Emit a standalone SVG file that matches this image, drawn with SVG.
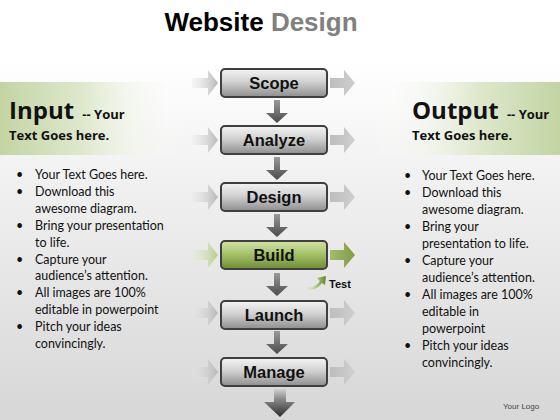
<svg xmlns="http://www.w3.org/2000/svg" width="560" height="420" viewBox="0 0 560 420">
<defs>
<linearGradient id="bg" x1="0" y1="0" x2="0" y2="1">
<stop offset="0" stop-color="#ffffff"/>
<stop offset="0.15" stop-color="#ffffff"/>
<stop offset="0.4" stop-color="#f2f2f2"/>
<stop offset="1" stop-color="#d7d7d7"/>
</linearGradient>
<linearGradient id="bandL" x1="0" y1="0" x2="1" y2="0">
<stop offset="0" stop-color="#c3d4a3"/>
<stop offset="0.45" stop-color="#dfe8cd"/>
<stop offset="1" stop-color="#ffffff" stop-opacity="0"/>
</linearGradient>
<linearGradient id="bandR" x1="1" y1="0" x2="0" y2="0">
<stop offset="0" stop-color="#c3d4a3"/>
<stop offset="0.45" stop-color="#dfe8cd"/>
<stop offset="1" stop-color="#ffffff" stop-opacity="0"/>
</linearGradient>
<linearGradient id="boxG" x1="0" y1="0" x2="0" y2="1">
<stop offset="0" stop-color="#f4f4f4"/>
<stop offset="0.45" stop-color="#d2d2d2"/>
<stop offset="1" stop-color="#8e8e8e"/>
</linearGradient>
<linearGradient id="boxGreen" x1="0" y1="0" x2="0" y2="1">
<stop offset="0" stop-color="#d3e4a8"/>
<stop offset="0.45" stop-color="#a6c36c"/>
<stop offset="1" stop-color="#6d8d31"/>
</linearGradient>
<linearGradient id="sideL" x1="0" y1="0" x2="1" y2="0">
<stop offset="0" stop-color="#e6e6e6" stop-opacity="0.3"/>
<stop offset="1" stop-color="#b8b8b8"/>
</linearGradient>
<linearGradient id="sideR" x1="0" y1="0" x2="1" y2="0">
<stop offset="0" stop-color="#bdbdbd"/>
<stop offset="1" stop-color="#cfcfcf"/>
</linearGradient>
<linearGradient id="sideLG" x1="0" y1="0" x2="1" y2="0">
<stop offset="0" stop-color="#e6eed6" stop-opacity="0.3"/>
<stop offset="1" stop-color="#b6cc8a"/>
</linearGradient>
<linearGradient id="sideRG" x1="0" y1="0" x2="1" y2="0">
<stop offset="0" stop-color="#a3bd6c"/>
<stop offset="1" stop-color="#7f9c45"/>
</linearGradient>
<linearGradient id="down" x1="0" y1="0" x2="0" y2="1">
<stop offset="0" stop-color="#9a9a9a"/>
<stop offset="1" stop-color="#4a4a4a"/>
</linearGradient>
<linearGradient id="downBig" x1="0" y1="0" x2="0" y2="1">
<stop offset="0" stop-color="#e0e0e0"/>
<stop offset="0.4" stop-color="#8a8a8a"/>
<stop offset="1" stop-color="#2e2e2e"/>
</linearGradient>
<linearGradient id="testG" x1="0" y1="0" x2="1" y2="0">
<stop offset="0" stop-color="#f4f8ea" stop-opacity="0.2"/>
<stop offset="0.5" stop-color="#c8dca0"/>
<stop offset="1" stop-color="#5f8a22"/>
</linearGradient>
</defs>
<style>
.box{stroke:#3f3f3f;stroke-width:2}
.lbl{font-family:"Liberation Sans",Arial,sans-serif;font-weight:bold;font-size:16.5px;fill:#111;text-anchor:middle}
.big{font-family:"Open Sans","Noto Sans",sans-serif;font-weight:bold;fill:#111}
.bul{font-family:Lato,"Open Sans",sans-serif;font-size:12.5px;fill:#111}
</style>
<rect x="0" y="0" width="560" height="420" fill="url(#bg)"/>
<rect x="0" y="82" width="185" height="73" fill="url(#bandL)"/>
<rect x="375" y="82" width="185" height="73" fill="url(#bandR)"/>

<g id="title">
<text x="261" y="31" text-anchor="middle" font-family="'Liberation Sans',Arial,sans-serif" font-weight="bold" font-size="26" fill="#000">Website <tspan fill="#808080">Design</tspan></text>
</g>

<g id="input-heading">
<text class="big" x="9" y="119" font-size="24">Input <tspan font-size="13" dx="2">-- Your</tspan></text>
<text class="big" x="9" y="140" font-size="13">Text Goes here.</text>
</g>
<g id="output-heading">
<text class="big" x="412" y="119" font-size="24">Output <tspan font-size="13" dx="2">-- Your</tspan></text>
<text class="big" x="412" y="140" font-size="13">Text Goes here.</text>
</g>

<g id="input-list" class="bul">
<text x="16" y="179">•</text><text x="35" y="179">Your Text Goes here.</text>
<text x="16" y="196">•</text><text x="35" y="196">Download this</text>
<text x="35" y="213">awesome diagram.</text>
<text x="16" y="230">•</text><text x="35" y="230">Bring your presentation</text>
<text x="35" y="247">to life.</text>
<text x="16" y="264">•</text><text x="35" y="264">Capture your</text>
<text x="35" y="280">audience’s attention.</text>
<text x="16" y="297">•</text><text x="35" y="297">All images are 100%</text>
<text x="35" y="314">editable in powerpoint</text>
<text x="16" y="331">•</text><text x="35" y="331">Pitch your ideas</text>
<text x="35" y="348">convincingly.</text>
</g>
<g id="output-list" class="bul">
<text x="404" y="180">•</text><text x="422" y="180">Your Text Goes here.</text>
<text x="404" y="197">•</text><text x="422" y="197">Download this</text>
<text x="422" y="214">awesome diagram.</text>
<text x="404" y="231">•</text><text x="422" y="231">Bring your</text>
<text x="422" y="248">presentation to life.</text>
<text x="404" y="265">•</text><text x="422" y="265">Capture your</text>
<text x="422" y="282">audience’s attention.</text>
<text x="404" y="299">•</text><text x="422" y="299">All images are 100%</text>
<text x="422" y="316">editable in</text>
<text x="422" y="333">powerpoint</text>
<text x="404" y="350">•</text><text x="422" y="350">Pitch your ideas</text>
<text x="422" y="367">convincingly.</text>
</g>

<g id="connectors">
<g fill="url(#sideL)">
<path d="M192,78 h16 v-8 l10,13 l-10,13 v-8 h-16z"/>
<path d="M192,135 h16 v-8 l10,13 l-10,13 v-8 h-16z"/>
<path d="M192,192 h16 v-8 l10,13 l-10,13 v-8 h-16z"/>
<path d="M192,308 h16 v-8 l10,13 l-10,13 v-8 h-16z"/>
<path d="M192,367 h16 v-8 l10,13 l-10,13 v-8 h-16z"/>
</g>
<path d="M192,250 h16 v-8 l10,13 l-10,13 v-8 h-16z" fill="url(#sideLG)"/>
<g fill="url(#sideR)">
<path d="M330,78 h14 v-8 l11,13 l-11,13 v-8 h-14z"/>
<path d="M330,135 h14 v-8 l11,13 l-11,13 v-8 h-14z"/>
<path d="M330,192 h14 v-8 l11,13 l-11,13 v-8 h-14z"/>
<path d="M330,308 h14 v-8 l11,13 l-11,13 v-8 h-14z"/>
<path d="M330,367 h14 v-8 l11,13 l-11,13 v-8 h-14z"/>
</g>
<path d="M330,250 h14 v-8 l11,13 l-11,13 v-8 h-14z" fill="url(#sideRG)"/>
<g fill="url(#down)">
<path d="M274,100 h6 v13 h8 l-11,10 l-11,-10 h8z"/>
<path d="M274,157 h6 v13 h8 l-11,10 l-11,-10 h8z"/>
<path d="M274,214 h6 v13 h8 l-11,10 l-11,-10 h8z"/>
<path d="M274,273 h6 v13 h8 l-11,10 l-11,-10 h8z"/>
<path d="M274,331 h6 v13 h8 l-11,10 l-11,-10 h8z"/>
</g>
<path d="M274,387 h12 v15 h9 l-15,15 l-16,-15 h10z" fill="url(#downBig)"/>
</g>

<g id="test">
<path d="M300,284 q12,8 20,-3 l-3,-3 l9,-2 l-1,9 l-3,-2 q-10,13 -22,1z" fill="url(#testG)"/>
<text x="329" y="288" font-family="'Liberation Sans',Arial,sans-serif" font-weight="bold" font-size="11" fill="#111">Test</text>
</g>

<g id="scope"><rect class="box" x="221" y="69" width="106" height="28" rx="4" fill="url(#boxG)"/><text class="lbl" x="274" y="89">Scope</text></g>
<g id="analyze"><rect class="box" x="221" y="126" width="106" height="28" rx="4" fill="url(#boxG)"/><text class="lbl" x="274" y="146">Analyze</text></g>
<g id="design"><rect class="box" x="221" y="183" width="106" height="28" rx="4" fill="url(#boxG)"/><text class="lbl" x="274" y="203">Design</text></g>
<g id="build"><rect class="box" x="221" y="241" width="106" height="28" rx="4" fill="url(#boxGreen)"/><text class="lbl" x="274" y="261">Build</text></g>
<g id="launch"><rect class="box" x="221" y="301" width="106" height="28" rx="4" fill="url(#boxG)"/><text class="lbl" x="274" y="321">Launch</text></g>
<g id="manage"><rect class="box" x="221" y="358" width="106" height="28" rx="4" fill="url(#boxG)"/><text class="lbl" x="274" y="378">Manage</text></g>

<text x="503" y="409" font-family="'Liberation Sans',Arial,sans-serif" font-size="8" fill="#444">Your Logo</text>
</svg>
